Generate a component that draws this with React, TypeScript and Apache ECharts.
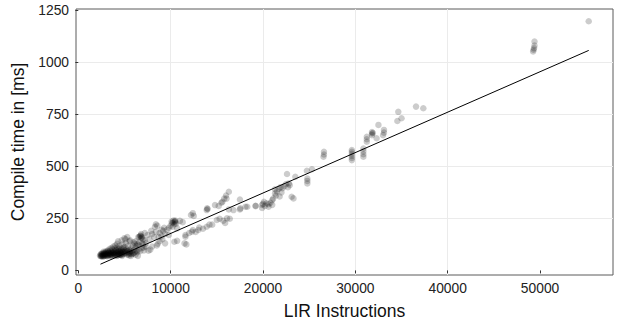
import React, { useEffect, useRef } from "react";
import * as echarts from "echarts";

const xTicks = [0, 10000, 20000, 30000, 40000, 50000];
const yTicks = [0, 250, 500, 750, 1000, 1250];

const fitX = [2400, 55270];
const fitY = [30, 1057];

// LIR instruction counts and compile times (ms)
const points: number[][] = [
  // dense low cluster
  [2350,70],[2400,75],[2450,68],[2500,72],[2550,78],[2600,70],[2650,74],[2700,80],[2750,68],[2800,76],
  [2850,82],[2900,72],[2950,85],[3000,78],[3050,70],[3100,88],[3150,75],[3200,82],[3250,92],[3300,74],
  [3350,86],[3400,80],[3450,95],[3500,72],[3550,84],[3600,90],[3650,78],[3700,100],[3750,86],[3800,74],
  [3850,92],[3900,82],[3950,105],[4000,88],[4050,76],[4100,95],[4150,84],[4200,110],[4250,72],[4300,90],
  [4350,100],[4400,80],[4450,118],[4500,86],[4550,74],[4600,96],[4650,105],[4700,82],[4750,90],[4800,125],
  [4850,78],[4900,100],[4950,88],[5000,112],[5050,80],[5100,95],[5150,130],[5200,86],[5250,102],[5300,76],
  [5350,92],[5400,118],[5450,84],[5500,98],[5550,140],[5600,88],[5650,80],[5700,105],[5800,92],[5900,82],
  [6000,98],[6100,88],[6200,110],[6300,94],
  [2500,68],[2700,72],[2900,78],[3100,76],[3300,84],[3500,80],[3700,84],[3900,78],[4100,82],[4300,78],
  [4500,76],[4700,74],[2600,82],[2800,86],[3000,92],[3200,96],[3400,104],[3600,108],[3800,115],[4000,120],
  [4200,128],[4400,104],[4600,84],[4800,90],[5000,84],[2450,80],[2650,66],[2850,70],[3050,80],[3250,70],
  [3450,76],[3650,70],[3850,84],[4050,98],[4250,86],[4450,92],[4650,78],[4850,108],[5050,96],[5250,90],
  [5450,78],[5650,94],[3150,68],[3550,74],[3950,72],[4350,74],[4150,70],[4550,88],[4750,70],[2750,90],
  [5800,78],[6000,82],[6200,76],[6400,88],[6500,100],[6700,92],[6900,108],[7100,96],[7300,115],[5900,120],
  [6100,128],[6300,118],[6600,135],[6900,132],[7200,145],[5700,70],[5500,72],[6450,70],
  // band 4000-10000
  [4300,140],[4700,145],[5000,155],[5100,150],[5300,160],[5600,145],[6000,135],[6500,160],[6700,165],[6800,155],
  [7000,150],[6600,120],[7000,125],[7300,130],[7600,95],[7800,100],[8000,115],[8300,210],[8500,120],[8600,128],
  [8700,160],[8800,180],[9000,165],[9200,190],[9400,175],[9600,195],[9800,205],[10000,215],[10100,235],[10300,230],
  [6200,140],[6800,175],[7200,180],[7500,170],[7900,190],[8200,160],[8800,140],[9100,150],[9400,130],[9800,170],
  [7100,110],[6400,125],[6600,162],[6900,158],[8400,222],[8550,215],[6750,168],[6850,162],[8000,175],[8400,185],
  [9000,195],[9300,205],[7700,150],
  // 10000-20000
  [10500,240],[10600,225],[10400,138],[10700,142],[11000,238],[11300,232],[11600,162],[11600,170],[11500,130],[11700,125],
  [10700,202],[10200,210],[10400,222],[10300,240],[10500,232],[12000,180],[12300,186],[12400,194],[12200,266],[12500,262],
  [12400,275],[12700,185],[13000,194],[13100,206],[13500,200],[13900,290],[14000,295],[13950,298],[13900,210],[14200,220],
  [14500,220],[14800,314],[15000,242],[15200,310],[15300,248],[15500,325],[15600,330],[15700,239],[15800,345],[15900,228],
  [16000,360],[16050,345],[16300,378],[16300,293],[16100,250],[16400,248],[16800,290],[17500,293],[17500,341],[17550,298],
  [18100,306],[18300,306],[19200,309],[19200,311],[10150,228],[10450,236],
  // 20000-27000
  [19900,315],[19900,300],[20000,320],[20200,310],[20100,330],[20400,322],[20600,318],[20600,306],[20800,325],[21000,338],
  [21100,345],[21000,315],[21300,390],[21300,370],[21500,380],[21700,392],[21900,400],[22100,395],[22300,405],[22500,415],
  [22700,400],[22900,410],[22800,418],[21400,360],[21800,355],[22000,375],[22600,463],[23100,354],[23300,346],[23500,450],
  [24750,479],[24800,418],[24800,430],[24800,441],[25300,486],[26550,546],[26600,557],[26600,570],
  // 29000-38000
  [29620,530],[29620,540],[29620,550],[29620,560],[29620,570],[29620,578],[30870,546],[30870,558],[30870,572],[30870,586],
  [31240,618],[31240,630],[31240,642],[31800,650],[31800,658],[31800,665],[31900,660],[32300,635],[32500,699],[33000,650],
  [33100,662],[33100,675],[34650,762],[34550,718],[35000,731],[36570,787],[37360,779],
  // outliers
  [49250,1052],[49300,1060],[49350,1068],[49400,1080],[49400,1100],[55270,1197]
];

const fitLine = fitX.map((x, i) => [x, fitY[i]]);

export default function App() {
  const ref = useRef<HTMLDivElement>(null);
  useEffect(() => {
    if (!ref.current) return;
    const chart = echarts.init(ref.current, undefined, { renderer: "svg" });
    const font = "Liberation Sans";
    chart.setOption({
      animation: false,
      grid: {
        left: 76,
        right: 5,
        top: 9,
        bottom: 47,
        containLabel: false,
        outerBoundsMode: "none",
        show: true,
        borderColor: "#5a5a5a",
        borderWidth: 1,
        backgroundColor: "#fff",
      },
      xAxis: {
        type: "value",
        min: -250,
        max: 57900,
        minInterval: 10000,
        maxInterval: 10000,
        name: "LIR Instructions",
        nameLocation: "middle",
        nameGap: 27,
        nameTextStyle: { fontFamily: font, fontSize: 17.5, color: "#111" },
        axisLine: { show: false },
        axisTick: { show: true, customValues: xTicks, length: 3, lineStyle: { color: "#333" } },
        axisLabel: {
          customValues: xTicks,
          formatter: (v: number) => String(v),
          fontFamily: font,
          fontSize: 13.8,
          color: "#222",
          margin: 6,
        },
        splitLine: { show: true, showMinLine: false, showMaxLine: false, lineStyle: { color: "#ebebeb", width: 1 } },
      },
      yAxis: {
        type: "value",
        min: -22,
        max: 1256,
        minInterval: 250,
        maxInterval: 250,
        name: "Compile time in [ms]",
        nameLocation: "middle",
        nameGap: 41,
        nameTextStyle: { fontFamily: font, fontSize: 17.5, color: "#111" },
        axisLine: { show: false },
        axisTick: { show: true, customValues: yTicks, length: 3, lineStyle: { color: "#333" } },
        axisLabel: {
          customValues: yTicks,
          formatter: (v: number) => String(v),
          fontFamily: font,
          fontSize: 13.8,
          color: "#222",
          margin: 7,
        },
        splitLine: { show: true, showMinLine: false, showMaxLine: false, lineStyle: { color: "#ebebeb", width: 1 } },
      },
      series: [
        {
          type: "scatter",
          data: points,
          symbolSize: 6.5,
          itemStyle: { color: "rgba(0,0,0,0.25)" },
          silent: true,
        },
        {
          type: "line",
          data: fitLine,
          symbol: "none",
          lineStyle: { color: "#000", width: 1 },
          silent: true,
        },
      ],
    });
    return () => chart.dispose();
  }, []);
  return (
    <div
      ref={ref}
      style={{ position: "absolute", left: 0, top: 0, width: 618, height: 322 }}
    />
  );
}
